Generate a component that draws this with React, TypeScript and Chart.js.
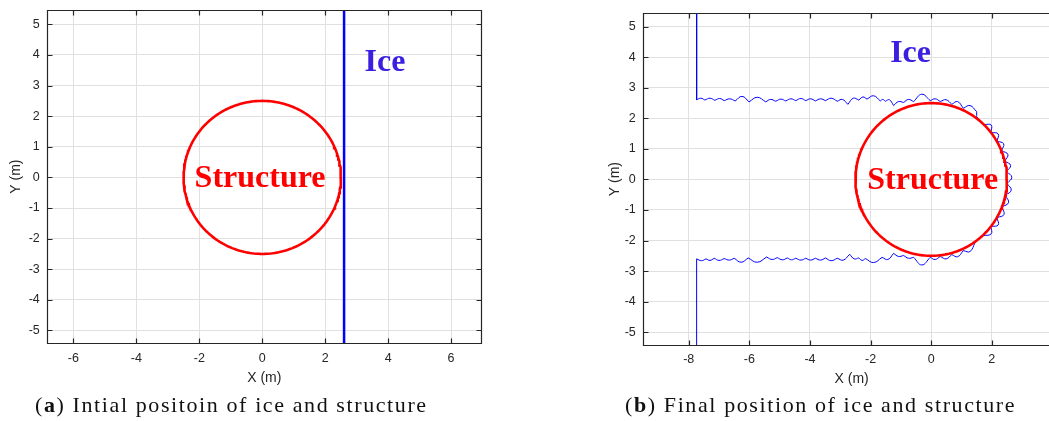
import React, { useEffect, useRef } from 'react';
import { Chart, registerables } from 'chart.js';

Chart.register(...registerables);

type Pt = [number, number];

// ---- axes ----
const xTicksInitial = [-6, -4, -2, 0, 2, 4, 6];
const xTicksFinal = [-8, -6, -4, -2, 0, 2];
const yTicks = [-5, -4, -3, -2, -1, 0, 1, 2, 3, 4, 5];

const xLimInitial: Pt = [-6.83, 6.96];
const yLimInitial: Pt = [-5.42, 5.47];
const xLimFinal: Pt = [-9.5, 4.25];
const yLimFinal: Pt = [-5.42, 5.44];

// ---- structure (cylinder cross-section) ----
const structureCenter: Pt = [0, 0];
const structureRadius = 2.5;

// ---- ice, initial state: straight front ----
const iceFrontX = 2.6;

// ---- ice, final state: channel cut through the sheet ----
const channelEndX = -7.74;

// upper channel edge: cusps between broken pieces and the crest of each piece
const upperCusps: Pt[] = [
  [-7.74, 2.61], [-7.47, 2.6], [-7.14, 2.59], [-6.83, 2.58], [-6.47, 2.57], [-6.01, 2.54],
  [-5.46, 2.54], [-5.13, 2.56], [-4.8, 2.57], [-4.47, 2.58], [-4.14, 2.58], [-3.82, 2.57],
  [-3.49, 2.58], [-3.1, 2.56], [-2.75, 2.46], [-2.39, 2.6], [-2.12, 2.63], [-1.68, 2.57],
  [-1.51, 2.56], [-1.24, 2.42], [-0.91, 2.52], [-0.58, 2.55], [-0.03, 2.58], [0.3, 2.55],
  [0.68, 2.46], [1.06, 2.33], [1.5, 2.22],
];
const upperCrests: Pt[] = [
  [-7.6, 2.66], [-7.3, 2.66], [-6.98, 2.65], [-6.65, 2.64], [-6.24, 2.72], [-5.74, 2.69],
  [-5.3, 2.62], [-4.96, 2.63], [-4.63, 2.64], [-4.3, 2.65], [-3.98, 2.64], [-3.65, 2.64],
  [-3.3, 2.66], [-2.93, 2.62], [-2.57, 2.66], [-2.25, 2.7], [-1.9, 2.74], [-1.6, 2.62],
  [-1.38, 2.61], [-1.08, 2.55], [-0.75, 2.62], [-0.31, 2.79], [0.13, 2.64], [0.49, 2.61],
  [0.87, 2.55], [1.28, 2.42],
];

// broken pieces pressed against the structure's downstream face
const faceCusps: Pt[] = [
  [1.5, 2.22], [1.5, 2.05], [1.74, 1.8], [1.97, 1.54], [2.17, 1.25], [2.32, 0.94], [2.43, 0.6],
  [2.49, 0.26], [2.5, -0.13], [2.45, -0.52], [2.33, -0.9], [2.17, -1.25], [1.97, -1.54],
  [1.72, -1.84], [1.45, -2.06],
];
const faceCrests: Pt[] = [
  [1.5, 2.14], [1.62, 1.93], [1.98, 1.78], [2.21, 1.49], [2.39, 1.17], [2.53, 0.82], [2.62, 0.46],
  [2.66, 0.07], [2.64, -0.35], [2.55, -0.76], [2.4, -1.15], [2.21, -1.49], [1.98, -1.78],
  [1.585, -1.95],
];

// lower channel edge
const lowerCusps: Pt[] = [
  [-7.74, -2.6], [-7.43, -2.6], [-7.16, -2.58], [-6.83, -2.59], [-6.5, -2.58], [-6.04, -2.57],
  [-5.43, -2.54], [-5.08, -2.56], [-4.75, -2.57], [-4.47, -2.58], [-4.14, -2.58], [-3.82, -2.58],
  [-3.49, -2.57], [-3.1, -2.58], [-2.69, -2.45], [-2.39, -2.57], [-2.17, -2.59], [-1.62, -2.55],
  [-1.24, -2.42], [-0.91, -2.49], [-0.58, -2.55], [-0.03, -2.55], [0.3, -2.52], [0.68, -2.46],
  [1.06, -2.33], [1.45, -2.06],
];
const lowerCrests: Pt[] = [
  [-7.58, -2.66], [-7.3, -2.65], [-7.0, -2.65], [-6.66, -2.64], [-6.27, -2.71], [-5.74, -2.71],
  [-5.25, -2.62], [-4.91, -2.63], [-4.61, -2.63], [-4.3, -2.64], [-3.98, -2.64], [-3.65, -2.64],
  [-3.3, -2.66], [-2.9, -2.64], [-2.54, -2.6], [-2.28, -2.65], [-1.9, -2.72], [-1.43, -2.62],
  [-1.08, -2.52], [-0.75, -2.58], [-0.31, -2.8], [0.13, -2.62], [0.49, -2.6], [0.87, -2.53],
  [1.28, -2.36],
];

// text labels placed in data units: [x centre, baseline y]
const iceLabelInitial: Pt = [3.9, 3.47];
const structureLabelInitial: Pt = [-0.07, -0.31];
const iceLabelFinal: Pt = [-0.68, 3.85];
const structureLabelFinal: Pt = [0.05, -0.32];

const RED = '#ff0000';
const BLUE = '#0000ff';
const LABEL_BLUE = '#3a1fe0';
const AXIS_COLOR = '#262626';
const SANS = '"Liberation Sans", Arial, Helvetica, sans-serif';
const SERIF = '"Liberation Serif", "Times New Roman", serif';

type XY = { x: number | null; y: number | null };

function outline(center: Pt, r: number): XY[] {
  const pts: XY[] = [];
  const n = 240;
  for (let i = 0; i <= n; i++) {
    const a = (2 * Math.PI * i) / n;
    pts.push({ x: center[0] + r * Math.cos(a), y: center[1] + r * Math.sin(a) });
  }
  return pts;
}

// each piece is its own short curved segment, so neighbouring pieces meet in a cusp
function pieces(cusps: Pt[], crests: Pt[]): XY[] {
  const pts: XY[] = [];
  crests.forEach((c, i) => {
    pts.push(
      { x: cusps[i][0], y: cusps[i][1] },
      { x: c[0], y: c[1] },
      { x: cusps[i + 1][0], y: cusps[i + 1][1] },
      { x: null, y: null },
    );
  });
  return pts;
}

type Label = { text: string; at: Pt; color: string };

const boxPlugin = {
  id: 'matlabBox',
  afterDatasetsDraw(chart: any) {
    const { ctx, chartArea } = chart;
    const { left, right, top, bottom } = chartArea;
    const xs = chart.scales.x;
    const ys = chart.scales.y;
    const L = Math.round(left) + 0.5;
    const R = Math.round(right) + 0.5;
    const T = Math.round(top) + 0.5;
    const B = Math.round(bottom) + 0.5;
    ctx.save();
    ctx.strokeStyle = AXIS_COLOR;
    ctx.lineWidth = 1.2;
    ctx.beginPath();
    ctx.rect(L, T, R - L, B - T);
    const len = 5;
    xs.ticks.forEach((t: any) => {
      const p = Math.round(xs.getPixelForValue(t.value)) + 0.5;
      ctx.moveTo(p, B);
      ctx.lineTo(p, B - len);
      ctx.moveTo(p, T);
      ctx.lineTo(p, T + len);
    });
    ys.ticks.forEach((t: any) => {
      const p = Math.round(ys.getPixelForValue(t.value)) + 0.5;
      ctx.moveTo(L, p);
      ctx.lineTo(L + len, p);
      ctx.moveTo(R, p);
      ctx.lineTo(R - len, p);
    });
    ctx.stroke();

    const labels: Label[] = chart.options.plugins.matlabBox?.labels || [];
    ctx.font = `bold 32px ${SERIF}`;
    ctx.textAlign = 'center';
    ctx.textBaseline = 'alphabetic';
    labels.forEach((l) => {
      ctx.fillStyle = l.color;
      ctx.fillText(l.text, xs.getPixelForValue(l.at[0]), ys.getPixelForValue(l.at[1]));
    });
    ctx.restore();
  },
};

type PanelProps = {
  left: number;
  width: number;
  height: number;
  padding: { top: number; left: number; right: number; bottom: number };
  yAxisWidth: number;
  xAxisHeight: number;
  yTitlePad: number;
  xLim: Pt;
  yLim: Pt;
  xTicks: number[];
  datasets: any[];
  labels: Label[];
};

function Panel(p: PanelProps) {
  const ref = useRef<HTMLCanvasElement | null>(null);
  useEffect(() => {
    if (!ref.current) return;
    const tickFont = { family: SANS, size: 12.5 };
    const titleFont = { family: SANS, size: 14 };
    const chart = new Chart(ref.current, {
      type: 'scatter',
      data: { datasets: p.datasets },
      plugins: [boxPlugin],
      options: {
        animation: false,
        responsive: false,
        devicePixelRatio: 1,
        layout: { padding: p.padding },
        plugins: {
          legend: { display: false },
          tooltip: { enabled: false },
          matlabBox: { labels: p.labels },
        } as any,
        elements: { point: { radius: 0, hoverRadius: 0 } },
        scales: {
          x: {
            type: 'linear',
            min: p.xLim[0],
            max: p.xLim[1],
            bounds: 'data',
            afterBuildTicks: (s: any) => {
              s.ticks = p.xTicks.map((v) => ({ value: v }));
            },
            afterFit: (s: any) => {
              s.height = p.xAxisHeight;
              s.paddingLeft = 0;
              s.paddingRight = 0;
            },
            grid: { color: '#e0e0e0', lineWidth: 1, drawTicks: false },
            border: { display: false },
            ticks: {
              color: AXIS_COLOR,
              font: tickFont,
              padding: 7.5,
              maxRotation: 0,
              autoSkip: false,
              callback: (v: any) => String(v),
            },
            title: {
              display: true,
              text: 'X (m)',
              color: AXIS_COLOR,
              font: titleFont,
              padding: { top: 0, bottom: 0 },
            },
          },
          y: {
            type: 'linear',
            min: p.yLim[0],
            max: p.yLim[1],
            bounds: 'data',
            afterBuildTicks: (s: any) => {
              s.ticks = yTicks.map((v) => ({ value: v }));
            },
            afterFit: (s: any) => {
              s.width = p.yAxisWidth;
              s.paddingTop = 0;
              s.paddingBottom = 0;
            },
            grid: { color: '#e0e0e0', lineWidth: 1, drawTicks: false },
            border: { display: false },
            ticks: {
              color: AXIS_COLOR,
              font: tickFont,
              padding: 7.5,
              autoSkip: false,
              callback: (v: any) => String(v),
            },
            title: {
              display: true,
              text: 'Y (m)',
              color: AXIS_COLOR,
              font: titleFont,
              padding: { top: p.yTitlePad, bottom: 0 },
            },
          },
        },
      } as any,
    });
    return () => chart.destroy();
  }, []);
  return (
    <canvas
      ref={ref}
      width={p.width}
      height={p.height}
      style={{ position: 'absolute', left: p.left, top: 0, width: p.width, height: p.height }}
    />
  );
}

const structureDataset = {
  data: outline(structureCenter, structureRadius),
  showLine: true,
  borderColor: RED,
  borderWidth: 2.6,
  pointRadius: 0,
};

const initialDatasets = [
  structureDataset,
  {
    data: [
      { x: iceFrontX, y: yLimInitial[0] },
      { x: iceFrontX, y: yLimInitial[1] },
    ],
    showLine: true,
    borderColor: BLUE,
    borderWidth: 2.5,
    pointRadius: 0,
  },
];

const edgeStyle = {
  showLine: true,
  borderColor: BLUE,
  borderWidth: 1,
  pointRadius: 0,
  spanGaps: false,
  tension: 0.45,
};

const finalDatasets = [
  { ...structureDataset, data: outline(structureCenter, structureRadius) },
  { ...edgeStyle, data: pieces(upperCusps, upperCrests) },
  { ...edgeStyle, data: pieces(faceCusps, faceCrests) },
  { ...edgeStyle, data: pieces(lowerCusps, lowerCrests) },
  {
    ...edgeStyle,
    tension: 0,
    data: [
      { x: channelEndX, y: yLimFinal[1] },
      { x: upperCusps[0][0], y: upperCusps[0][1] },
    ],
  },
  {
    ...edgeStyle,
    tension: 0,
    data: [
      { x: channelEndX, y: yLimFinal[0] },
      { x: lowerCusps[0][0], y: lowerCusps[0][1] },
    ],
  },
];

const captionStyle: React.CSSProperties = {
  position: 'absolute',
  top: 394,
  margin: 0,
  fontFamily: SERIF,
  fontSize: 22,
  lineHeight: '22px',
  letterSpacing: '1.6px',
  color: '#111',
  whiteSpace: 'nowrap',
};

export default function App() {
  return (
    <div
      style={{
        position: 'fixed',
        left: 0,
        top: 0,
        width: 1049,
        height: 421,
        overflow: 'hidden',
        background: '#ffffff',
      }}
    >
      <Panel
        left={0}
        width={500}
        height={395}
        padding={{ top: 10, left: 0, right: 18.7, bottom: 8.3 }}
        yAxisWidth={47.3}
        xAxisHeight={43.4}
        yTitlePad={7.6}
        xLim={xLimInitial}
        yLim={yLimInitial}
        xTicks={xTicksInitial}
        datasets={initialDatasets}
        labels={[
          { text: 'Ice', at: iceLabelInitial, color: LABEL_BLUE },
          { text: 'Structure', at: structureLabelInitial, color: RED },
        ]}
      />
      <Panel
        left={600}
        width={470}
        height={395}
        padding={{ top: 13.3, left: 0, right: 10, bottom: 7.6 }}
        yAxisWidth={43.3}
        xAxisHeight={42.4}
        yTitlePad={6.6}
        xLim={xLimFinal}
        yLim={yLimFinal}
        xTicks={xTicksFinal}
        datasets={finalDatasets}
        labels={[
          { text: 'Ice', at: iceLabelFinal, color: LABEL_BLUE },
          { text: 'Structure', at: structureLabelFinal, color: RED },
        ]}
      />
      <div style={{ ...captionStyle, left: 35 }}>
        (<b>a</b>) Intial positoin of ice and structure
      </div>
      <div style={{ ...captionStyle, left: 625 }}>
        (<b>b</b>) Final position of ice and structure
      </div>
    </div>
  );
}
